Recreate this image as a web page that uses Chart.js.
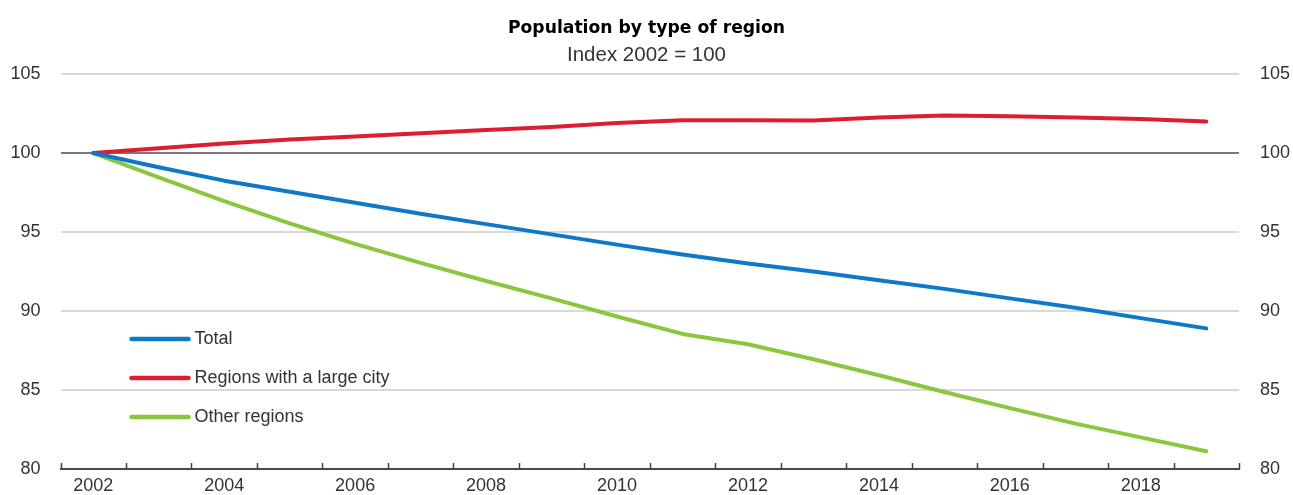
<!DOCTYPE html>
<html>
<head>
<meta charset="utf-8">
<script src="https://cdn.jsdelivr.net/npm/chart.js@4.4.1/dist/chart.umd.min.js"></script>
<style>
  html, body { margin: 0; padding: 0; background: #fff; overflow: hidden; }
  #wrap { width: 1293px; height: 495px; position: relative; }
</style>
</head>
<body>
<div id="wrap"><canvas id="c" width="1293" height="495"></canvas></div>
<script>
const years = ['2002','2003','2004','2005','2006','2007','2008','2009','2010','2011','2012','2013','2014','2015','2016','2017','2018','2019'];
const total = [100, 99.1, 98.25, 97.55, 96.85, 96.15, 95.5, 94.85, 94.2, 93.57, 93.0, 92.5, 91.95, 91.4, 90.8, 90.2, 89.55, 88.9];
const largeCity = [100, 100.3, 100.6, 100.85, 101.05, 101.25, 101.45, 101.65, 101.9, 102.07, 102.07, 102.05, 102.25, 102.38, 102.32, 102.25, 102.15, 102.0];
const otherRegions = [100, 98.45, 96.95, 95.55, 94.25, 93.05, 91.9, 90.8, 89.65, 88.55, 87.9, 86.95, 85.93, 84.87, 83.85, 82.87, 82.0, 81.12];
const seriesLabels = ['Total', 'Regions with a large city', 'Other regions'];
const seriesColors = ['#0F78C8', '#DD1E2F', '#8CC63F'];
const yMin = 80, yMax = 105, yStep = 5;

const FONT = '"Liberation Sans", Arial, sans-serif';

const innerTicks = {
  id: 'innerTicks',
  afterDraw(chart) {
    const xs = chart.scales.x;
    const ctx = chart.ctx;
    const n = chart.data.labels.length;
    const half = (xs.getPixelForValue(1) - xs.getPixelForValue(0)) / 2;
    const yb = chart.chartArea.bottom;
    ctx.save();
    ctx.strokeStyle = '#404040';
    ctx.lineWidth = 1.5;
    for (let i = 0; i <= n; i++) {
      const x = Math.round((i < n ? xs.getPixelForValue(i) - half : xs.getPixelForValue(n - 1) + half)) + 0.5;
      ctx.beginPath();
      ctx.moveTo(x, yb - 6);
      ctx.lineTo(x, yb);
      ctx.stroke();
    }
    ctx.restore();
  }
};

const innerLegend = {
  id: 'innerLegend',
  afterDraw(chart) {
    const ctx = chart.ctx;
    const ca = chart.chartArea;
    ctx.save();
    chart.data.datasets.forEach((ds, i) => {
      const y = 339 + i * 39;
      const x0 = ca.left + 71, x1 = ca.left + 128;
      ctx.strokeStyle = ds.borderColor;
      ctx.lineWidth = 4.5;
      ctx.lineCap = 'round';
      ctx.beginPath();
      ctx.moveTo(x0, y);
      ctx.lineTo(x1, y);
      ctx.stroke();
      ctx.fillStyle = '#333';
      ctx.font = '18px ' + FONT;
      ctx.textBaseline = 'middle';
      ctx.textAlign = 'left';
      ctx.fillText(ds.label, x1 + 6, y);
    });
    ctx.restore();
  }
};

new Chart(document.getElementById('c'), {
  type: 'line',
  data: {
    labels: years,
    datasets: [
      { label: seriesLabels[0], data: total, borderColor: seriesColors[0] },
      { label: seriesLabels[1], data: largeCity, borderColor: seriesColors[1] },
      { label: seriesLabels[2], data: otherRegions, borderColor: seriesColors[2] }
    ].map(d => Object.assign(d, {
      borderWidth: 4, pointRadius: 0, tension: 0, fill: false,
      borderCapStyle: 'round', borderJoinStyle: 'round', yAxisID: 'y'
    }))
  },
  options: {
    responsive: false,
    animation: false,
    devicePixelRatio: 1,
    layout: { padding: { left: 0, right: 0, top: 0, bottom: 0 } },
    plugins: {
      legend: { display: false },
      tooltip: { enabled: false },
      title: {
        display: true,
        text: 'Population by type of region',
        color: '#000',
        font: { family: '"DejaVu Sans", sans-serif', weight: 'bold', size: 17.2, lineHeight: 1.2 },
        padding: { top: 18, bottom: 4 }
      },
      subtitle: {
        display: true,
        text: 'Index 2002 = 100',
        color: '#333',
        font: { family: FONT, size: 20.5, lineHeight: 1.14 },
        padding: { top: 1, bottom: 7 }
      }
    },
    scales: {
      x: {
        type: 'category',
        offset: true,
        grid: { display: false, drawTicks: false },
        border: { display: true, color: '#4a4a4a', width: 2 },
        ticks: {
          autoSkip: false,
          maxRotation: 0,
          padding: 6,
          color: '#333',
          font: { family: FONT, size: 18 },
          callback: function(v, i) { return i % 2 === 0 ? this.getLabelForValue(v) : ''; }
        },
        afterFit: s => { s.height = 26; }
      },
      y: {
        position: 'left',
        min: yMin, max: yMax,
        ticks: { stepSize: yStep, padding: 0, color: '#333', font: { family: FONT, size: 18 } },
        border: { display: false },
        grid: {
          drawTicks: true,
          tickLength: 20,
          tickColor: 'rgba(0,0,0,0)',
          color: c => c.tick.value === 100 ? '#7a7a7a' : (c.tick.value === yMin ? 'rgba(0,0,0,0)' : '#d9d9d9'),
          lineWidth: 2
        },
        afterFit: s => { s.width = 60.5; }
      },
      y2: {
        position: 'right',
        min: yMin, max: yMax,
        ticks: { stepSize: yStep, padding: 0, color: '#333', font: { family: FONT, size: 18 } },
        border: { display: false },
        grid: { display: false, drawTicks: true, tickLength: 21 },
        afterFit: s => { s.width = 54; }
      }
    }
  },
  plugins: [innerTicks, innerLegend]
});
</script>
</body>
</html>
